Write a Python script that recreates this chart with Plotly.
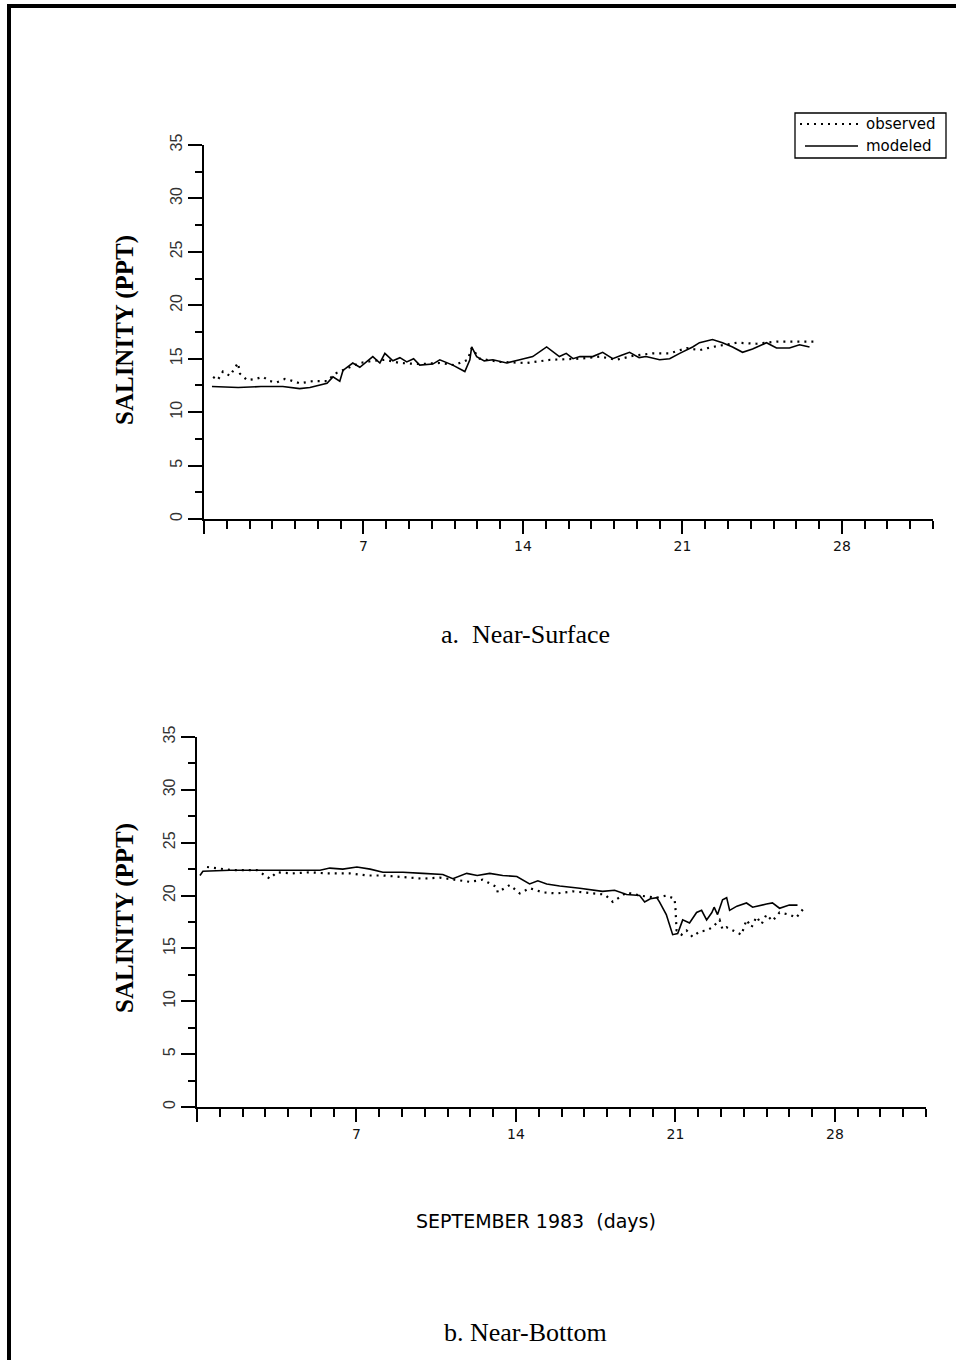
import plotly.graph_objects as go

# ---- Near-surface (a) ----
surf_obs_day = [0.4, 0.6, 0.83, 1.14, 1.49, 1.58, 1.89, 2.24, 2.59, 2.9, 3.2, 3.55, 3.77, 4.2, 4.78, 5.4,
                5.75, 6.1, 6.4, 6.84, 7.41, 7.94, 8.6, 9.47, 10.35, 11.0, 11.58, 11.75, 12.1, 13.0, 14.17,
                15.2, 16.5, 17.4, 18.1, 18.9, 19.7, 20.44, 21.2, 21.75, 22.32, 23.4, 24.25, 25.13, 25.83, 26.8]
surf_obs_val = [13.3, 13.0, 13.8, 13.4, 14.6, 13.6, 13.0, 13.1, 13.3, 12.9, 12.8, 13.1, 13.0, 12.7, 12.9, 12.9,
                13.6, 13.9, 14.2, 14.6, 14.8, 14.9, 14.6, 14.5, 14.6, 14.4, 14.9, 16.0, 15.0, 14.7, 14.6,
                14.9, 15.0, 15.2, 14.9, 15.3, 15.5, 15.5, 16.0, 15.8, 16.1, 16.5, 16.4, 16.6, 16.6, 16.6]

surf_mod_day = [0.35, 1.5, 2.5, 3.46, 4.2, 4.65, 5.4, 5.66, 5.96, 6.1, 6.53, 6.84, 7.41, 7.72, 7.94, 8.29,
                8.6, 8.9, 9.2, 9.47, 10.04, 10.35, 10.92, 11.45, 11.67, 11.75, 11.97, 12.3, 12.68, 13.29,
                13.86, 14.43, 15.04, 15.6, 15.9, 16.2, 16.5, 17.06, 17.5, 17.94, 18.3, 18.68, 19.1, 19.4,
                20.0, 20.44, 20.88, 21.45, 21.75, 22.32, 22.76, 23.2, 23.64, 24.08, 24.69, 25.13, 25.7,
                26.14, 26.58]
surf_mod_val = [12.4, 12.3, 12.4, 12.4, 12.2, 12.3, 12.7, 13.3, 12.9, 13.9, 14.6, 14.2, 15.2, 14.6, 15.5, 14.8,
                15.1, 14.7, 15.0, 14.4, 14.5, 14.9, 14.4, 13.8, 14.9, 16.1, 15.2, 14.8, 14.9, 14.6,
                14.9, 15.2, 16.1, 15.2, 15.5, 15.0, 15.2, 15.2, 15.6, 15.0, 15.3, 15.6, 15.1, 15.2,
                14.9, 15.0, 15.5, 16.1, 16.5, 16.8, 16.5, 16.1, 15.6, 15.9, 16.5, 16.0, 16.0,
                16.3, 16.1]

# ---- Near-bottom (b) ----
bot_obs_day = [0.44, 0.88, 1.58, 2.63, 3.07, 3.2, 3.5, 4.2, 4.96, 5.7, 6.71, 7.46, 8.16, 8.9, 9.91, 10.66,
               11.4, 11.97, 12.54, 13.16, 13.2, 13.73, 14.17, 14.6, 15.18, 15.8, 16.5, 17.37, 17.9, 18.25,
               18.86, 19.43, 20.18, 20.6, 20.96, 21.0, 21.02, 21.05, 21.27, 21.49, 21.75, 22.06, 22.37,
               22.63, 22.94, 23.07, 23.25, 23.5, 23.9, 24.12, 24.34, 24.56, 24.78, 25.0, 25.26, 25.57,
               26.0, 26.3, 26.67]
bot_obs_val = [22.7, 22.6, 22.4, 22.4, 21.8, 21.6, 22.2, 22.1, 22.2, 22.1, 22.1, 21.9, 21.9, 21.8, 21.6, 21.7,
               21.5, 21.3, 21.5, 20.8, 20.3, 21.0, 20.2, 20.7, 20.3, 20.2, 20.4, 20.2, 20.1, 19.4,
               20.3, 20.0, 19.8, 20.0, 19.7, 18.9, 17.8, 16.7, 16.3, 16.7, 16.1, 16.6, 16.7,
               17.0, 17.7, 16.8, 17.0, 16.7, 16.3, 17.7, 17.0, 18.0, 17.3, 18.2, 17.6, 18.4,
               18.2, 17.9, 18.9]

bot_mod_day = [0.13, 0.26, 1.45, 3.64, 5.4, 5.83, 6.4, 7.02, 7.6, 8.16, 9.04, 9.91, 10.79, 11.23, 11.84,
               12.3, 12.85, 13.42, 14.04, 14.6, 14.96, 15.35, 15.92, 16.8, 17.8, 18.33, 18.86, 19.43,
               19.65, 19.9, 20.18, 20.3, 20.6, 20.88, 21.1, 21.32, 21.62, 21.93, 22.15, 22.37, 22.6,
               22.7, 22.85, 23.07, 23.25, 23.38, 23.7, 24.12, 24.39, 25.0, 25.26, 25.57, 26.0, 26.36]
bot_mod_val = [21.9, 22.3, 22.4, 22.4, 22.4, 22.6, 22.5, 22.7, 22.5, 22.2, 22.2, 22.1, 22.0, 21.6, 22.1,
               21.9, 22.1, 21.9, 21.8, 21.1, 21.4, 21.1, 20.9, 20.7, 20.4, 20.5, 20.1, 20.0,
               19.4, 19.7, 19.8, 19.4, 18.2, 16.3, 16.4, 17.7, 17.4, 18.4, 18.6, 17.7, 18.4,
               18.9, 18.2, 19.6, 19.8, 18.6, 19.0, 19.3, 18.9, 19.2, 19.3, 18.8, 19.1, 19.1]

x_tick_vals = [0, 7, 14, 21, 28]
x_tick_text = ["", "7", "14", "21", "28"]
y_tick_vals = [0, 5, 10, 15, 20, 25, 30, 35]
legend_labels = ["observed", "modeled"]

W, H = 956, 1360

fig = go.Figure()

obs_line = dict(color="black", width=2.2, dash="2px,5px")
mod_line = dict(color="black", width=1.6)

fig.add_trace(go.Scatter(x=surf_obs_day, y=surf_obs_val, mode="lines", line=obs_line,
                         name="observed", showlegend=False, xaxis="x", yaxis="y"))
fig.add_trace(go.Scatter(x=surf_mod_day, y=surf_mod_val, mode="lines", line=mod_line,
                         name="modeled", showlegend=False, xaxis="x", yaxis="y"))
fig.add_trace(go.Scatter(x=bot_obs_day, y=bot_obs_val, mode="lines", line=obs_line,
                         name="observed", showlegend=False, xaxis="x2", yaxis="y2"))
fig.add_trace(go.Scatter(x=bot_mod_day, y=bot_mod_val, mode="lines", line=mod_line,
                         name="modeled", showlegend=False, xaxis="x2", yaxis="y2"))

xtickfont = dict(family="DejaVu Sans", size=14, color="#111")
ytickfont = dict(family="Liberation Sans Narrow, Liberation Sans", size=16, color="#333")


def xaxis(domain, anchor):
    return dict(domain=domain, anchor=anchor, range=[0, 32], showline=True, linecolor="black",
                linewidth=2, ticks="outside", ticklen=13, tickwidth=2, tickcolor="black",
                tickvals=x_tick_vals, ticktext=x_tick_text, tickfont=xtickfont, showgrid=False,
                zeroline=False, automargin=False,
                minor=dict(ticks="outside", ticklen=8, tickwidth=2, tickcolor="black",
                           tick0=0, dtick=1, showgrid=False))


def yaxis(domain, anchor):
    return dict(domain=domain, anchor=anchor, range=[0, 35], showline=True, linecolor="black",
                linewidth=2, ticks="outside", ticklen=14, tickwidth=1.5, tickcolor="black",
                tickvals=y_tick_vals, tickfont=ytickfont, tickangle=-90, showgrid=False,
                zeroline=False, automargin=False,
                minor=dict(ticks="outside", ticklen=7, tickwidth=1.5, tickcolor="black",
                           tick0=0, dtick=2.5, showgrid=False))


fig.update_layout(
    template="none",
    width=W, height=H, autosize=False,
    margin=dict(l=0, r=0, t=0, b=0, pad=0, autoexpand=False),
    paper_bgcolor="white", plot_bgcolor="white",
    xaxis=xaxis([204 / W, 933 / W], "y"),
    yaxis=yaxis([1 - 519 / H, 1 - 145 / H], "x"),
    xaxis2=xaxis([197 / W, 926 / W], "y2"),
    yaxis2=yaxis([1 - 1107 / H, 1 - 737 / H], "x2"),
    showlegend=False,
)


def px(x):
    return x / W


def py(y):
    return 1 - y / H


annotations = []
for ymid in (330, 918):
    annotations.append(dict(text="<b>SALINITY (PPT)</b>", x=px(125), y=py(ymid), xref="paper",
                            yref="paper", showarrow=False, textangle=-90,
                            font=dict(family="Liberation Serif", size=25, color="black"),
                            xanchor="center", yanchor="middle"))
annotations.append(dict(text="a.  Near-Surface", x=px(525), y=py(634), xref="paper", yref="paper",
                        showarrow=False, xanchor="center", yanchor="middle",
                        font=dict(family="Liberation Serif", size=26, color="black")))
annotations.append(dict(text="b. Near-Bottom", x=px(525), y=py(1332), xref="paper", yref="paper",
                        showarrow=False, xanchor="center", yanchor="middle",
                        font=dict(family="Liberation Serif", size=26, color="black")))
annotations.append(dict(text="SEPTEMBER 1983  (days)", x=px(536), y=py(1221), xref="paper",
                        yref="paper", showarrow=False, xanchor="center", yanchor="middle",
                        font=dict(family="DejaVu Sans", size=19, color="black")))

# legend (top-right box)
leg_rows = [124, 146]
for label, yrow in zip(legend_labels, leg_rows):
    annotations.append(dict(text=label, x=px(864), y=py(yrow), xref="paper", yref="paper",
                            showarrow=False, xanchor="left", yanchor="middle",
                            font=dict(family="DejaVu Sans", size=15, color="black")))
fig.update_layout(annotations=annotations)

shapes = [
    # scanned page border (left and top edges)
    dict(type="rect", xref="paper", yref="paper", x0=px(7), x1=px(11), y0=0, y1=py(4),
         fillcolor="black", line=dict(width=0)),
    dict(type="rect", xref="paper", yref="paper", x0=px(7), x1=1, y0=py(8), y1=py(4),
         fillcolor="black", line=dict(width=0)),
    # legend box and samples
    dict(type="rect", xref="paper", yref="paper", x0=px(795), x1=px(946), y0=py(158), y1=py(113),
         fillcolor="white", line=dict(color="black", width=1.3)),
    dict(type="line", xref="paper", yref="paper", x0=px(800), x1=px(858), y0=py(leg_rows[0]),
         y1=py(leg_rows[0]), line=obs_line),
    dict(type="line", xref="paper", yref="paper", x0=px(805), x1=px(858), y0=py(leg_rows[1]),
         y1=py(leg_rows[1]), line=mod_line),
]
fig.update_layout(shapes=shapes)

page_fix = (
    "document.documentElement.style.margin='0';"
    "document.documentElement.style.overflow='hidden';"
    "document.body.style.margin='0';"
    "document.body.style.overflow='hidden';"
    "var gd=document.getElementById('{plot_id}');"
    "gd.style.position='absolute';gd.style.top='0px';gd.style.left='0px';"
)

fig.write_html("out.html", config={"displayModeBar": False}, post_script=page_fix)
